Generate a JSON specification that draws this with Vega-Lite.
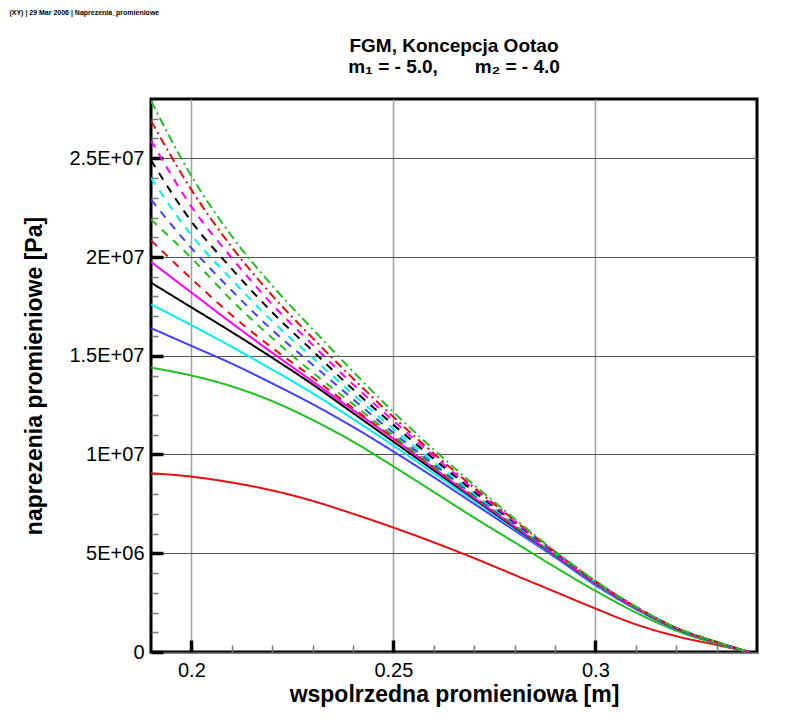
{
  "$schema": "https://vega.github.io/schema/vega-lite/v6.json",
  "padding": {"left": 9, "top": 8, "right": 40, "bottom": 5},
  "background": "#ffffff",
  "title": {
    "text": "(XY)  |  29 Mar 2006  |  Naprezenia_promieniowe",
    "anchor": "start",
    "frame": "bounds",
    "fontSize": 7,
    "fontWeight": "bold",
    "color": "#000000",
    "dx": -13,
    "offset": 20
  },
  "config": {
    "font": "Liberation Sans",
    "view": {"stroke": "#000000", "strokeWidth": 3},
    "axis": {"labelFont": "Liberation Sans", "titleFont": "Liberation Sans", "labelColor": "#000000", "titleColor": "#000000"},
    "title": {"font": "Liberation Sans", "color": "#000000"}
  },
  "datasets": {
    "stress": [
      {"k": "c01", "r": 0.19, "s": 9050000}, {"k": "c01", "r": 0.20, "s": 8880000}, {"k": "c01", "r": 0.21, "s": 8580000}, {"k": "c01", "r": 0.22, "s": 8180000},
      {"k": "c01", "r": 0.23, "s": 7650000}, {"k": "c01", "r": 0.24, "s": 7000000}, {"k": "c01", "r": 0.25, "s": 6300000}, {"k": "c01", "r": 0.26, "s": 5550000},
      {"k": "c01", "r": 0.27, "s": 4750000}, {"k": "c01", "r": 0.28, "s": 3900000}, {"k": "c01", "r": 0.29, "s": 3050000}, {"k": "c01", "r": 0.30, "s": 2200000},
      {"k": "c01", "r": 0.31, "s": 1400000}, {"k": "c01", "r": 0.32, "s": 800000}, {"k": "c01", "r": 0.33, "s": 360000}, {"k": "c01", "r": 0.338, "s": 0},

      {"k": "c02", "r": 0.19, "s": 14400000}, {"k": "c02", "r": 0.20, "s": 14000000}, {"k": "c02", "r": 0.21, "s": 13450000}, {"k": "c02", "r": 0.22, "s": 12700000},
      {"k": "c02", "r": 0.23, "s": 11750000}, {"k": "c02", "r": 0.24, "s": 10650000}, {"k": "c02", "r": 0.25, "s": 9400000}, {"k": "c02", "r": 0.26, "s": 8100000},
      {"k": "c02", "r": 0.27, "s": 6800000}, {"k": "c02", "r": 0.28, "s": 5550000}, {"k": "c02", "r": 0.29, "s": 4300000}, {"k": "c02", "r": 0.30, "s": 3100000},
      {"k": "c02", "r": 0.31, "s": 2000000}, {"k": "c02", "r": 0.32, "s": 1080000}, {"k": "c02", "r": 0.33, "s": 420000}, {"k": "c02", "r": 0.338, "s": 0},

      {"k": "c03", "r": 0.19, "s": 16400000}, {"k": "c03", "r": 0.20, "s": 15500000}, {"k": "c03", "r": 0.21, "s": 14600000}, {"k": "c03", "r": 0.22, "s": 13600000},
      {"k": "c03", "r": 0.23, "s": 12550000}, {"k": "c03", "r": 0.24, "s": 11400000}, {"k": "c03", "r": 0.25, "s": 10150000}, {"k": "c03", "r": 0.26, "s": 8850000},
      {"k": "c03", "r": 0.27, "s": 7500000}, {"k": "c03", "r": 0.28, "s": 6150000}, {"k": "c03", "r": 0.29, "s": 4800000}, {"k": "c03", "r": 0.30, "s": 3380000},
      {"k": "c03", "r": 0.31, "s": 2170000}, {"k": "c03", "r": 0.32, "s": 1160000}, {"k": "c03", "r": 0.33, "s": 470000}, {"k": "c03", "r": 0.338, "s": 0},

      {"k": "c04", "r": 0.19, "s": 17600000}, {"k": "c04", "r": 0.20, "s": 16550000}, {"k": "c04", "r": 0.21, "s": 15450000}, {"k": "c04", "r": 0.22, "s": 14300000},
      {"k": "c04", "r": 0.23, "s": 13100000}, {"k": "c04", "r": 0.24, "s": 11800000}, {"k": "c04", "r": 0.25, "s": 10450000}, {"k": "c04", "r": 0.26, "s": 9050000},
      {"k": "c04", "r": 0.27, "s": 7650000}, {"k": "c04", "r": 0.28, "s": 6250000}, {"k": "c04", "r": 0.29, "s": 4850000}, {"k": "c04", "r": 0.30, "s": 3420000},
      {"k": "c04", "r": 0.31, "s": 2200000}, {"k": "c04", "r": 0.32, "s": 1180000}, {"k": "c04", "r": 0.33, "s": 480000}, {"k": "c04", "r": 0.338, "s": 0},

      {"k": "c05", "r": 0.19, "s": 18700000}, {"k": "c05", "r": 0.20, "s": 17450000}, {"k": "c05", "r": 0.21, "s": 16200000}, {"k": "c05", "r": 0.22, "s": 14900000},
      {"k": "c05", "r": 0.23, "s": 13550000}, {"k": "c05", "r": 0.24, "s": 12100000}, {"k": "c05", "r": 0.25, "s": 10650000}, {"k": "c05", "r": 0.26, "s": 9200000},
      {"k": "c05", "r": 0.27, "s": 7750000}, {"k": "c05", "r": 0.28, "s": 6300000}, {"k": "c05", "r": 0.29, "s": 4880000}, {"k": "c05", "r": 0.30, "s": 3460000},
      {"k": "c05", "r": 0.31, "s": 2220000}, {"k": "c05", "r": 0.32, "s": 1190000}, {"k": "c05", "r": 0.33, "s": 490000}, {"k": "c05", "r": 0.338, "s": 0},

      {"k": "c06", "r": 0.19, "s": 19750000}, {"k": "c06", "r": 0.20, "s": 18200000}, {"k": "c06", "r": 0.21, "s": 16650000}, {"k": "c06", "r": 0.22, "s": 15150000},
      {"k": "c06", "r": 0.23, "s": 13700000}, {"k": "c06", "r": 0.24, "s": 12250000}, {"k": "c06", "r": 0.25, "s": 10800000}, {"k": "c06", "r": 0.26, "s": 9300000},
      {"k": "c06", "r": 0.27, "s": 7800000}, {"k": "c06", "r": 0.28, "s": 6350000}, {"k": "c06", "r": 0.29, "s": 4900000}, {"k": "c06", "r": 0.30, "s": 3480000},
      {"k": "c06", "r": 0.31, "s": 2230000}, {"k": "c06", "r": 0.32, "s": 1200000}, {"k": "c06", "r": 0.33, "s": 490000}, {"k": "c06", "r": 0.338, "s": 0},

      {"k": "c07", "r": 0.19, "s": 20840000}, {"k": "c07", "r": 0.20, "s": 18900000}, {"k": "c07", "r": 0.21, "s": 17050000}, {"k": "c07", "r": 0.22, "s": 15400000},
      {"k": "c07", "r": 0.23, "s": 13900000}, {"k": "c07", "r": 0.24, "s": 12350000}, {"k": "c07", "r": 0.25, "s": 10850000}, {"k": "c07", "r": 0.26, "s": 9350000},
      {"k": "c07", "r": 0.27, "s": 7850000}, {"k": "c07", "r": 0.28, "s": 6380000}, {"k": "c07", "r": 0.29, "s": 4920000}, {"k": "c07", "r": 0.30, "s": 3500000},
      {"k": "c07", "r": 0.31, "s": 2240000}, {"k": "c07", "r": 0.32, "s": 1200000}, {"k": "c07", "r": 0.33, "s": 500000}, {"k": "c07", "r": 0.338, "s": 0},

      {"k": "c08", "r": 0.19, "s": 21900000}, {"k": "c08", "r": 0.20, "s": 19950000}, {"k": "c08", "r": 0.21, "s": 17800000}, {"k": "c08", "r": 0.22, "s": 15900000},
      {"k": "c08", "r": 0.23, "s": 14150000}, {"k": "c08", "r": 0.24, "s": 12550000}, {"k": "c08", "r": 0.25, "s": 10950000}, {"k": "c08", "r": 0.26, "s": 9420000},
      {"k": "c08", "r": 0.27, "s": 7900000}, {"k": "c08", "r": 0.28, "s": 6420000}, {"k": "c08", "r": 0.29, "s": 4950000}, {"k": "c08", "r": 0.30, "s": 3520000},
      {"k": "c08", "r": 0.31, "s": 2250000}, {"k": "c08", "r": 0.32, "s": 1210000}, {"k": "c08", "r": 0.33, "s": 500000}, {"k": "c08", "r": 0.338, "s": 0},

      {"k": "c09", "r": 0.19, "s": 22900000}, {"k": "c09", "r": 0.20, "s": 20450000}, {"k": "c09", "r": 0.21, "s": 18300000}, {"k": "c09", "r": 0.22, "s": 16300000},
      {"k": "c09", "r": 0.23, "s": 14550000}, {"k": "c09", "r": 0.24, "s": 12800000}, {"k": "c09", "r": 0.25, "s": 11100000}, {"k": "c09", "r": 0.26, "s": 9500000},
      {"k": "c09", "r": 0.27, "s": 7950000}, {"k": "c09", "r": 0.28, "s": 6450000}, {"k": "c09", "r": 0.29, "s": 4970000}, {"k": "c09", "r": 0.30, "s": 3530000},
      {"k": "c09", "r": 0.31, "s": 2260000}, {"k": "c09", "r": 0.32, "s": 1210000}, {"k": "c09", "r": 0.33, "s": 500000}, {"k": "c09", "r": 0.338, "s": 0},

      {"k": "c10", "r": 0.19, "s": 24000000}, {"k": "c10", "r": 0.20, "s": 21100000}, {"k": "c10", "r": 0.21, "s": 18850000}, {"k": "c10", "r": 0.22, "s": 16750000},
      {"k": "c10", "r": 0.23, "s": 14900000}, {"k": "c10", "r": 0.24, "s": 13050000}, {"k": "c10", "r": 0.25, "s": 11300000}, {"k": "c10", "r": 0.26, "s": 9620000},
      {"k": "c10", "r": 0.27, "s": 8020000}, {"k": "c10", "r": 0.28, "s": 6500000}, {"k": "c10", "r": 0.29, "s": 5000000}, {"k": "c10", "r": 0.30, "s": 3550000},
      {"k": "c10", "r": 0.31, "s": 2270000}, {"k": "c10", "r": 0.32, "s": 1220000}, {"k": "c10", "r": 0.33, "s": 500000}, {"k": "c10", "r": 0.338, "s": 0},

      {"k": "c11", "r": 0.19, "s": 24900000}, {"k": "c11", "r": 0.20, "s": 21800000}, {"k": "c11", "r": 0.21, "s": 19400000}, {"k": "c11", "r": 0.22, "s": 17200000},
      {"k": "c11", "r": 0.23, "s": 15250000}, {"k": "c11", "r": 0.24, "s": 13300000}, {"k": "c11", "r": 0.25, "s": 11500000}, {"k": "c11", "r": 0.26, "s": 9780000},
      {"k": "c11", "r": 0.27, "s": 8120000}, {"k": "c11", "r": 0.28, "s": 6550000}, {"k": "c11", "r": 0.29, "s": 5020000}, {"k": "c11", "r": 0.30, "s": 3560000},
      {"k": "c11", "r": 0.31, "s": 2280000}, {"k": "c11", "r": 0.32, "s": 1220000}, {"k": "c11", "r": 0.33, "s": 500000}, {"k": "c11", "r": 0.338, "s": 0},

      {"k": "c12", "r": 0.19, "s": 25900000}, {"k": "c12", "r": 0.20, "s": 22550000}, {"k": "c12", "r": 0.21, "s": 19950000}, {"k": "c12", "r": 0.22, "s": 17600000},
      {"k": "c12", "r": 0.23, "s": 15550000}, {"k": "c12", "r": 0.24, "s": 13550000}, {"k": "c12", "r": 0.25, "s": 11700000}, {"k": "c12", "r": 0.26, "s": 9920000},
      {"k": "c12", "r": 0.27, "s": 8220000}, {"k": "c12", "r": 0.28, "s": 6600000}, {"k": "c12", "r": 0.29, "s": 5050000}, {"k": "c12", "r": 0.30, "s": 3570000},
      {"k": "c12", "r": 0.31, "s": 2280000}, {"k": "c12", "r": 0.32, "s": 1220000}, {"k": "c12", "r": 0.33, "s": 510000}, {"k": "c12", "r": 0.338, "s": 0},

      {"k": "c13", "r": 0.19, "s": 26900000}, {"k": "c13", "r": 0.20, "s": 23400000}, {"k": "c13", "r": 0.21, "s": 20500000}, {"k": "c13", "r": 0.22, "s": 18050000},
      {"k": "c13", "r": 0.23, "s": 15900000}, {"k": "c13", "r": 0.24, "s": 13850000}, {"k": "c13", "r": 0.25, "s": 11900000}, {"k": "c13", "r": 0.26, "s": 10050000},
      {"k": "c13", "r": 0.27, "s": 8320000}, {"k": "c13", "r": 0.28, "s": 6660000}, {"k": "c13", "r": 0.29, "s": 5070000}, {"k": "c13", "r": 0.30, "s": 3580000},
      {"k": "c13", "r": 0.31, "s": 2290000}, {"k": "c13", "r": 0.32, "s": 1220000}, {"k": "c13", "r": 0.33, "s": 510000}, {"k": "c13", "r": 0.338, "s": 0},

      {"k": "c14", "r": 0.19, "s": 27900000}, {"k": "c14", "r": 0.20, "s": 24100000}, {"k": "c14", "r": 0.21, "s": 21050000}, {"k": "c14", "r": 0.22, "s": 18550000},
      {"k": "c14", "r": 0.23, "s": 16350000}, {"k": "c14", "r": 0.24, "s": 14200000}, {"k": "c14", "r": 0.25, "s": 12150000}, {"k": "c14", "r": 0.26, "s": 10250000},
      {"k": "c14", "r": 0.27, "s": 8450000}, {"k": "c14", "r": 0.28, "s": 6750000}, {"k": "c14", "r": 0.29, "s": 5100000}, {"k": "c14", "r": 0.30, "s": 3600000},
      {"k": "c14", "r": 0.31, "s": 2300000}, {"k": "c14", "r": 0.32, "s": 1230000}, {"k": "c14", "r": 0.33, "s": 510000}, {"k": "c14", "r": 0.338, "s": 0}
    ]
  },
  "vconcat": [
    {
      "width": 606,
      "height": 553,
      "title": {
        "text": ["FGM, Koncepcja Ootao", "m₁ = - 5.0,\u00a0\u00a0\u00a0\u00a0\u00a0\u00a0\u00a0m₂ = - 4.0"],
        "anchor": "middle",
        "fontSize": 19,
        "fontWeight": "bold",
        "lineHeight": 21,
        "offset": 22
      },
      "data": {"name": "stress"},
      "layer": [
        {
          "mark": {"type": "line", "strokeWidth": 2, "interpolate": "monotone", "clip": true},
          "encoding": {
            "x": {
              "field": "r",
              "type": "quantitative",
              "scale": {"domain": [0.19, 0.34], "nice": false, "zero": false},
              "axis": {
                "values": [0.2, 0.25, 0.3],
                "format": "~g",
                "grid": true,
                "gridColor": "#a0a0a0",
                "gridWidth": 1.5,
                "domain": false,
                "tickSize": -12,
                "tickWidth": 3.5,
                "tickColor": "#000000",
                "labelFontSize": 20,
                "labelPadding": 20,
                "title": "wspolrzedna promieniowa [m]",
                "titleFontSize": 23,
                "titleFontWeight": "bold",
                "titlePadding": 3
              }
            },
            "y": {
              "field": "s",
              "type": "quantitative",
              "scale": {"domain": [0, 28000000], "nice": false},
              "axis": {
                "values": [0, 5000000, 10000000, 15000000, 20000000, 25000000],
                "labelExpr": "datum.value == 0 ? '0' : replace(format(datum.value, '~e'), 'e+', 'E+0')",
                "grid": true,
                "gridColor": "#555555",
                "gridWidth": 1,
                "domain": false,
                "tickSize": -12,
                "tickWidth": 3.5,
                "tickColor": "#000000",
                "labelFontSize": 20,
                "labelPadding": 19,
                "title": "naprezenia promieniowe [Pa]",
                "titleFontSize": 23,
                "titleFontWeight": "bold",
                "titlePadding": 22
              }
            },
            "color": {
              "field": "k",
              "type": "nominal",
              "legend": null,
              "scale": {
                "domain": ["c01", "c02", "c03", "c04", "c05", "c06", "c07", "c08", "c09", "c10", "c11", "c12", "c13", "c14"],
                "range": ["#e01010", "#20c020", "#4040ff", "#00f0f0", "#000000", "#ff00ff", "#e01010", "#20c020", "#4040ff", "#00f0f0", "#000000", "#ff00ff", "#e01010", "#20c020"]
              }
            },
            "strokeDash": {
              "field": "k",
              "type": "nominal",
              "legend": null,
              "scale": {
                "domain": ["c01", "c02", "c03", "c04", "c05", "c06", "c07", "c08", "c09", "c10", "c11", "c12", "c13", "c14"],
                "range": [[1, 0], [1, 0], [1, 0], [1, 0], [1, 0], [1, 0], [8, 7], [8, 7], [8, 7], [8, 7], [8, 7], [8, 7], [9, 4, 2, 4], [9, 4, 2, 4]]
              }
            }
          }
        },
        {
          "mark": {"type": "line", "strokeOpacity": 0},
          "encoding": {
            "x": {
              "field": "r",
              "type": "quantitative",
              "axis": {
                "orient": "bottom",
                "values": [0.21, 0.22, 0.23, 0.24, 0.26, 0.27, 0.28, 0.29, 0.31, 0.32, 0.33],
                "labels": false,
                "grid": false,
                "domain": false,
                "tickSize": -7,
                "tickWidth": 1.5,
                "tickColor": "#777777",
                "title": null
              }
            },
            "y": {
              "field": "s",
              "type": "quantitative",
              "axis": {
                "orient": "left",
                "values": [1000000, 2000000, 3000000, 4000000, 6000000, 7000000, 8000000, 9000000, 11000000, 12000000, 13000000, 14000000, 16000000, 17000000, 18000000, 19000000, 21000000, 22000000, 23000000, 24000000, 26000000, 27000000],
                "labels": false,
                "grid": false,
                "domain": false,
                "tickSize": -7,
                "tickWidth": 1.5,
                "tickColor": "#777777",
                "title": null
              }
            },
            "detail": {"field": "k", "type": "nominal"}
          }
        }
      ],
      "resolve": {"axis": {"x": "independent", "y": "independent"}}
    }
  ]
}
